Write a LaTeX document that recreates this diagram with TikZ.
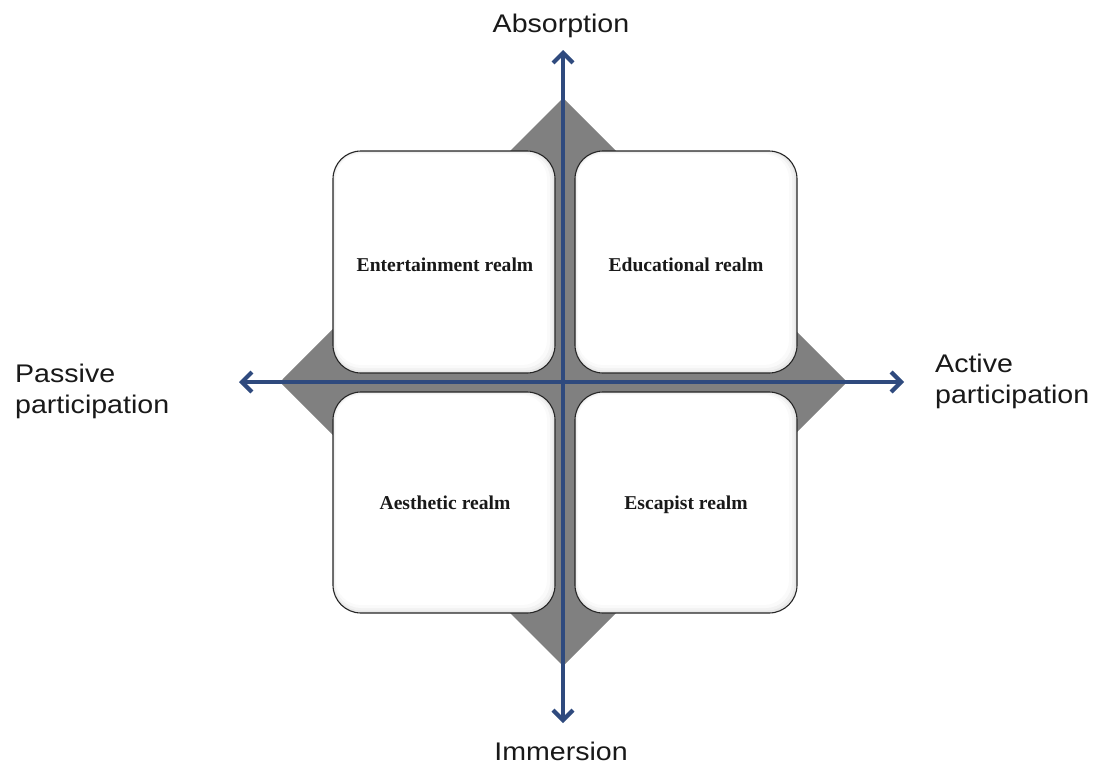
\documentclass[tikz,border=0pt]{standalone}
\usepackage{fontspec}
\usetikzlibrary{arrows.meta}
\newfontfamily\axisfont[FakeStretch=1.12]{Liberation Sans}
\newfontfamily\realmfont{Liberation Serif}
\definecolor{axisblue}{HTML}{2F4A7E}
\definecolor{diamondgray}{HTML}{808080}
\tikzset{
  axislabel/.style={font=\axisfont\fontsize{25.5}{31}\selectfont, inner sep=0pt, text=black!90},
  realmlabel/.style={font=\realmfont\fontsize{19.6}{22}\selectfont\bfseries, inner sep=0pt, text=black!90},
  axisline/.style={draw=axisblue, line width=4pt, {Straight Barb[length=10pt,width=20pt,line width=4.2pt]}-{Straight Barb[length=10pt,width=20pt,line width=4.2pt]}},
  realmbox/.style={draw=black!85, line width=1.1pt, rounded corners=28pt},
}
\newcommand{\realmrect}[5]{%
  % #1 name, #2 x1, #3 y1, #4 x2, #5 y2
  \fill[black!9, rounded corners=28pt] (#2,#3) rectangle (#4,#5);
  \fill[black!5, rounded corners=27pt] (#2+1,#3+1) rectangle (#4-2.5,#5-2.5);
  \fill[black!2, rounded corners=26pt] (#2+2,#3+2) rectangle (#4-5,#5-5);
  \fill[white, rounded corners=25pt] (#2+3,#3+3) rectangle (#4-8,#5-8);
  \draw[realmbox] (#2,#3) rectangle (#4,#5);
  \node[inner sep=0pt, minimum width=#4-#2, minimum height=#5-#3] (#1) at ({(#2+#4)/2},{(#3+#5)/2}) {};
}
\begin{document}
\begin{tikzpicture}[x=1pt,y=-1pt]
\useasboundingbox (0,0) rectangle (1103,769);
\fill[white] (0,0) rectangle (1103,769);
% diamond
\fill[diamondgray] (563,98) -- (847,382) -- (563,666) -- (280,382) -- cycle;
% boxes
\realmrect{tl}{333}{151}{555}{373}
\realmrect{tr}{575}{151}{797}{373}
\realmrect{bl}{333}{392}{555}{613}
\realmrect{br}{575}{392}{797}{613}
% axes
\coordinate (top) at (563,50);
\coordinate (bottom) at (563,723);
\coordinate (left) at (239,382);
\coordinate (right) at (904,382);
\draw[axisline] (bottom) -- (top);
\draw[axisline] (left) -- (right);
% realm labels
\node[realmlabel, anchor=base] (ent) at (445,271) {Entertainment realm};
\node[realmlabel, anchor=base] (edu) at (686,271) {Educational realm};
\node[realmlabel, anchor=base] (aes) at (445,509) {Aesthetic realm};
\node[realmlabel, anchor=base] (esc) at (686,509) {Escapist realm};
% axis labels
\node[axislabel, anchor=base] (absorption) at (561,32) {Absorption};
\node[axislabel, anchor=base] (immersion) at (561,760) {Immersion};
\node[axislabel, anchor=base west] (passive1) at (15,382) {Passive};
\node[axislabel, anchor=base west] (passive2) at (15,413) {participation};
\node[axislabel, anchor=base west] (active1) at (935,372) {Active};
\node[axislabel, anchor=base west] (active2) at (935,403) {participation};
\end{tikzpicture}
\end{document}
